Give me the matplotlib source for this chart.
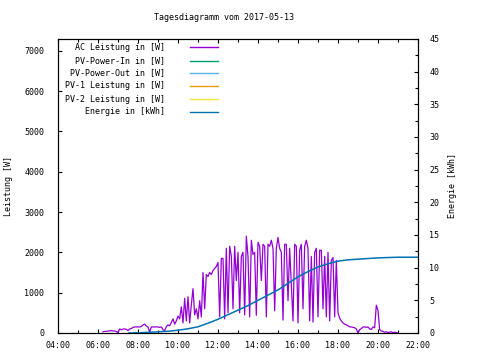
import numpy as np
import matplotlib
matplotlib.use("Agg")
import matplotlib.pyplot as plt
from matplotlib.lines import Line2D

plt.rcParams['font.family'] = ['DejaVu Sans Mono']

title = "Tagesdiagramm vom 2017-05-13"
legend_labels = ["AC Leistung in [W]", "PV-Power-In in [W]", "PV-Power-Out in [W]",
                 "PV-1 Leistung in [W]", "PV-2 Leistung in [W]", "Energie in [kWh]"]
legend_colors = ["#9400d3", "#009e73", "#56b4e9", "#e69f00", "#f0e442", "#0072b2"]

# AC power, 5-minute samples starting 06:15
power_start = 6.25
power_step = 5 / 60
ac_power = [
    30, 40, 40, 50, 50, 60, 50, 50, 40,
    10, 100, 80, 100, 100, 90, 60, 100, 110, 140, 150, 150,
    150, 150, 160, 200, 220, 170, 150, 20, 150, 150, 150, 150,
    150, 140, 150, 80, 60, 160, 200, 180, 260, 350, 220, 300,
    420, 350, 650, 250, 860, 300, 900, 250, 700, 1100, 450, 600,
    350, 800, 400, 1500, 600, 1450, 1400, 1500, 1450, 1550, 1600, 1650,
    1750, 400, 1850, 1850, 350, 2100, 500, 2150, 1900, 600, 2150, 1300,
    2000, 500, 1900, 2000, 450, 2400, 1900, 400, 2300, 1950, 2000, 440,
    2250, 2150, 1300, 2200, 2150, 400, 2200, 2150, 2300, 2100, 550, 2100,
    2370, 2100, 2000, 320, 2200, 2200, 800, 2100, 1200, 300, 2200, 2150,
    250, 2050, 2200, 600, 2150, 2300, 2100, 300, 1900, 270, 2000, 2100,
    400, 2050, 2050, 600, 1900, 400, 2000, 300, 1800, 1870, 400, 1800,
    500, 370, 300, 250, 220, 200, 180, 150, 150, 140, 130, 100,
    0, 80, 110, 150, 150, 140, 150, 100, 90, 150, 130, 690,
    560, 80, 50, 40, 20, 30, 10, 20, 30, 10, 20, 10,
    0,
]
power_time = power_start + power_step * np.arange(len(ac_power))

energy_time = [7.55, 8.0, 8.5, 9.0, 9.5, 10.0, 10.5, 11.0, 11.5, 12.0, 12.5, 13.0, 13.5,
               14.0, 14.5, 15.0, 15.5, 16.0, 16.5, 17.0, 17.5, 18.0, 18.5, 19.0, 19.5,
               20.0, 21.0, 22.0]
energy = [0, 0.03, 0.1, 0.18, 0.27, 0.42, 0.65, 0.95, 1.5, 2.1, 2.8, 3.5, 4.2,
          5.0, 5.8, 6.6, 7.6, 8.6, 9.4, 10.1, 10.6, 11.0, 11.2, 11.3, 11.4,
          11.5, 11.6, 11.6]

x_ticks = [4, 6, 8, 10, 12, 14, 16, 18, 20, 22]
x_labels = ["04:00", "06:00", "08:00", "10:00", "12:00", "14:00", "16:00", "18:00", "20:00", "22:00"]
y_ticks = [0, 1000, 2000, 3000, 4000, 5000, 6000, 7000]
y2_ticks = [0, 5, 10, 15, 20, 25, 30, 35, 40, 45]

fs = 6
fig = plt.figure(figsize=(4.8, 3.6), dpi=100)
ax = fig.add_axes([58/480, 27/360, 360/480, 294/360])
ax2 = ax.twinx()

ax.plot(power_time, ac_power, color=legend_colors[0], lw=0.9)
ax2.plot(energy_time, energy, color=legend_colors[5], lw=1.1)

ax.set_xlim(4, 22)
ax.set_ylim(0, 7290)
ax2.set_ylim(0, 45)

ax.set_xticks(x_ticks)
ax.set_xticklabels(x_labels, fontsize=fs)
ax.set_xticks(np.arange(5, 22, 2), minor=True)
ax.set_yticks(y_ticks)
ax.set_yticklabels([str(v) for v in y_ticks], fontsize=fs)
ax2.set_yticks(y2_ticks)
ax2.set_yticklabels([str(v) for v in y2_ticks], fontsize=fs)
ax2.set_yticks(np.arange(2.5, 45, 5), minor=True)

ax.tick_params(axis='x', which='both', direction='in', top=True, length=3, width=0.8, pad=6)
ax.tick_params(axis='x', which='minor', length=2)
ax.tick_params(axis='y', which='both', direction='in', length=3, width=0.8, pad=10)
ax2.tick_params(axis='y', which='both', direction='in', length=3, width=0.8, pad=8)
ax2.tick_params(axis='y', which='minor', length=2)

for a in (ax, ax2):
    for s in a.spines.values():
        s.set_linewidth(0.8)

ax.set_ylabel("Leistung [W]", fontsize=fs)
ax.yaxis.set_label_coords((13 - 58) / 360, 0.5)
ax2.set_ylabel("Energie [kWh]", fontsize=fs, rotation=90)
ax2.yaxis.set_label_coords((448 - 58) / 360, 0.5)
fig.text(223.5/480, 1 - 18/360, title, fontsize=fs, ha='center', va='center')

# manual gnuplot-style legend (text right-aligned, sample on right)
rows_y = [47, 61, 73, 86, 99, 112]
for lab, col, yp in zip(legend_labels, legend_colors, rows_y):
    fy = 1 - yp / 360
    fig.text(165/480, fy, lab, fontsize=fs, ha='right', va='center')
    fig.add_artist(Line2D([190/480, 218/480], [fy, fy], color=col, lw=1.0,
                          transform=fig.transFigure))

fig.savefig("out.png", dpi=100)
